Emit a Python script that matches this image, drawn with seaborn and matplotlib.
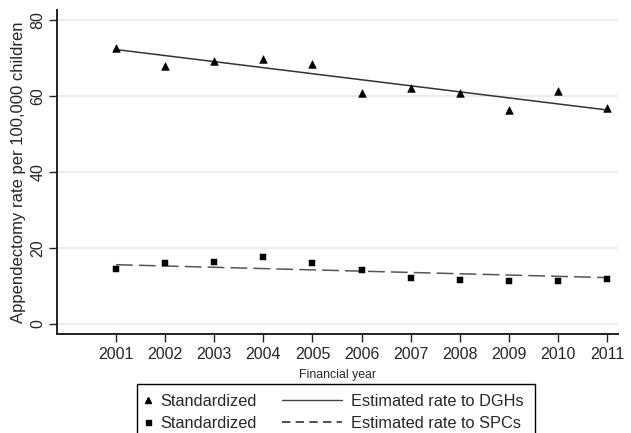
import matplotlib
matplotlib.use("Agg")
import matplotlib.pyplot as plt
from matplotlib.lines import Line2D
from matplotlib.patches import Rectangle
import seaborn as sns

# values
years = [2001, 2002, 2003, 2004, 2005, 2006, 2007, 2008, 2009, 2010, 2011]
dgh_std = [72.5, 67.8, 69.3, 69.8, 68.5, 60.8, 62.0, 60.8, 56.2, 61.3, 56.7]
spc_std = [14.5, 16.0, 16.2, 17.5, 16.0, 14.2, 12.1, 11.7, 11.4, 11.4, 11.8]

# estimated (fitted) rate, start and end of the trend lines
fit_years = [2001, 2011]
dgh_est = [72.2, 56.3]
spc_est = [15.6, 12.2]

yticks = [0, 20, 40, 60, 80]

sns.set_style("white")
plt.rcParams["font.family"] = ["Liberation Sans", "DejaVu Sans"]

W, H = 631, 433
fig = plt.figure(figsize=(W / 100, H / 100), dpi=100)
ax = fig.add_axes([57 / W, 1 - 334 / H, 561 / W, 324 / H])

for y in yticks:
    ax.axhline(y, color="#e6e6e6", lw=1.1, zorder=0)

sns.lineplot(x=fit_years, y=dgh_est, ax=ax, color="#333333", lw=1.1)
sns.lineplot(x=fit_years, y=spc_est, ax=ax, color="#555555", lw=1.1,
             linestyle=(0, (11, 4)))
sns.scatterplot(x=years, y=dgh_std, ax=ax, marker="^", s=30, color="black",
                edgecolor="black", zorder=3)
sns.scatterplot(x=years, y=spc_std, ax=ax, marker="s", s=18, color="black",
                edgecolor="black", zorder=3)

ax.set_xlim(1999.80, 2011.22)
ax.set_ylim(-2.63, 82.6)
ax.set_xticks(years)
ax.set_xticklabels([str(y) for y in years], fontsize=11.5)
ax.set_yticks(yticks)
ax.set_yticklabels([str(y) for y in yticks], fontsize=11.5, rotation=90,
                   va="center")
ax.tick_params(axis="both", direction="out", length=5.5, width=1,
               color="#222222", left=True, bottom=True, pad=3)
ax.tick_params(axis="x", pad=4)
ax.set_ylabel("Appendectomy rate per 100,000 children", fontsize=12,
              labelpad=3)
ax.set_xlabel("Financial year", fontsize=8.8, labelpad=5)

for s in ["top", "right"]:
    ax.spines[s].set_visible(False)
for s in ["left", "bottom"]:
    ax.spines[s].set_color("#222222")
    ax.spines[s].set_linewidth(1.4)

fs = 11.8
top = 1 - 384 / H
anchor = 1 - 387 / H
common = dict(loc="upper left", fontsize=fs, frameon=False, borderaxespad=0,
              borderpad=0.4, labelspacing=0.45)

# marker column
mk = [Line2D([], [], ls="none", marker="^", ms=4.5, color="black"),
      Line2D([], [], ls="none", marker="s", ms=3.6, color="black")]
leg1 = fig.legend(mk, ["Standardized", "Standardized"],
                  bbox_to_anchor=(137 / W, anchor), handlelength=0.6,
                  handletextpad=0.4, **common)

# line column
ln = [Line2D([], [], color="#444444", lw=1.0),
      Line2D([], [], color="#333333", lw=1.2, ls=(0, (5, 3.2)))]
leg2 = fig.legend(ln, ["Estimated rate to DGHs", "Estimated rate to SPCs"],
                  bbox_to_anchor=(275 / W, anchor), handlelength=3.66,
                  handletextpad=0.6, **common)

# frame around both legend columns (bottom runs past the figure edge)
fig.patches.append(Rectangle((137 / W, -0.05), (535 - 137) / W, top + 0.05,
                             transform=fig.transFigure, fill=False,
                             edgecolor="black", lw=1.0))

fig.savefig("out.png", dpi=100)
